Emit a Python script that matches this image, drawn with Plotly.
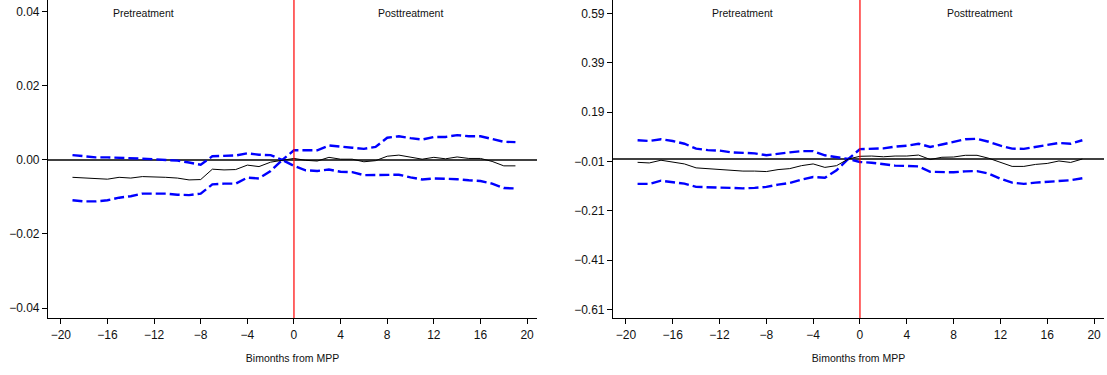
import plotly.graph_objects as go

# Event time (bimonths relative to MPP)
bimonths = list(range(-19, 20))

# Left panel: point estimates and 95% confidence bounds
left_est = [-0.0047, -0.0049, -0.0051, -0.0052, -0.0047, -0.0049, -0.0045, -0.0045, -0.0047, -0.0049,
            -0.0054, -0.0053, -0.0025, -0.0027, -0.0026, -0.0014, -0.0018, -0.0006, 0.0, 0.0004,
            -0.0001, -0.0003, 0.0007, 0.0002, 0.0002, -0.0005, -0.0002, 0.0010, 0.0013, 0.0007,
            0.0002, 0.0007, 0.0003, 0.0008, 0.0004, 0.0004, -0.0004, -0.0016, -0.0016]
left_hi = [0.0013, 0.0009, 0.0007, 0.0007, 0.0006, 0.0003, 0.0002, 0.0002, 0.0000, -0.0002,
           -0.0007, -0.0013, 0.0010, 0.0010, 0.0012, 0.0018, 0.0014, 0.0013, 0.0, 0.0026,
           0.0026, 0.0026, 0.0039, 0.0035, 0.0033, 0.0030, 0.0035, 0.0060, 0.0064, 0.0059,
           0.0055, 0.0062, 0.0062, 0.0067, 0.0064, 0.0064, 0.0057, 0.0049, 0.0048]
left_lo = [-0.0109, -0.0112, -0.0112, -0.0109, -0.0102, -0.0098, -0.0091, -0.0090, -0.0091, -0.0094,
           -0.0095, -0.0091, -0.0066, -0.0064, -0.0064, -0.0048, -0.0050, -0.0030, 0.0, -0.0016,
           -0.0028, -0.0030, -0.0026, -0.0032, -0.0033, -0.0041, -0.0040, -0.0040, -0.0040, -0.0047,
           -0.0053, -0.0050, -0.0050, -0.0052, -0.0055, -0.0057, -0.0064, -0.0076, -0.0077]

# Right panel: point estimates and 95% confidence bounds
right_est = [-0.0135, -0.016, -0.005, -0.011, -0.020, -0.036, -0.039, -0.042, -0.047, -0.049,
             -0.049, -0.051, -0.043, -0.039, -0.027, -0.020, -0.034, -0.027, 0.0, 0.011,
             0.012, 0.009, 0.012, 0.012, 0.016, -0.002, 0.007, 0.008, 0.015, 0.015,
             0.003, -0.015, -0.030, -0.030, -0.022, -0.018, -0.008, -0.014, 0.0]
right_hi = [0.076, 0.073, 0.080, 0.073, 0.062, 0.042, 0.036, 0.034, 0.027, 0.024,
            0.023, 0.015, 0.022, 0.027, 0.032, 0.032, 0.015, 0.008, 0.0, 0.040,
            0.042, 0.043, 0.050, 0.054, 0.062, 0.049, 0.059, 0.069, 0.080, 0.082,
            0.070, 0.054, 0.042, 0.041, 0.049, 0.055, 0.065, 0.062, 0.076]
right_lo = [-0.101, -0.101, -0.088, -0.093, -0.100, -0.113, -0.113, -0.116, -0.117, -0.119,
            -0.117, -0.113, -0.104, -0.097, -0.084, -0.073, -0.076, -0.046, 0.0, -0.012,
            -0.015, -0.022, -0.027, -0.028, -0.030, -0.052, -0.053, -0.054, -0.050, -0.049,
            -0.059, -0.080, -0.096, -0.101, -0.096, -0.093, -0.089, -0.086, -0.078]

x_ticks = list(range(-20, 21, 4))
left_yticks = [-0.04, -0.02, 0.0, 0.02, 0.04]
right_yticks = [-0.61, -0.41, -0.21, -0.01, 0.19, 0.39, 0.59]

FONT = "Liberation Sans, Arial, sans-serif"
BLUE = "#0000FF"
DASH = "10px,4px"

fig = go.Figure()

panels = [
    ("x", "y", left_est, left_lo, left_hi),
    ("x2", "y2", right_est, right_lo, right_hi),
]
for xa, ya, est, lo, hi in panels:
    fig.add_trace(go.Scatter(x=bimonths, y=hi, mode="lines", xaxis=xa, yaxis=ya,
                             line=dict(color=BLUE, width=2.4, dash=DASH), showlegend=False))
    fig.add_trace(go.Scatter(x=bimonths, y=lo, mode="lines", xaxis=xa, yaxis=ya,
                             line=dict(color=BLUE, width=2.4, dash=DASH), showlegend=False))
    fig.add_trace(go.Scatter(x=bimonths, y=est, mode="lines", xaxis=xa, yaxis=ya,
                             line=dict(color="black", width=1), showlegend=False))

xaxis_common = dict(
    range=[-21.1, 20.85], tickvals=x_ticks, ticks="outside", ticklen=5, tickwidth=1,
    tickcolor="black", showline=True, linecolor="black", linewidth=1.2, showgrid=False,
    zeroline=False, tickfont=dict(family=FONT, size=12, color="#111"),
    title=dict(text="Bimonths from MPP", font=dict(family=FONT, size=10.5, color="#111"), standoff=14),
)
yaxis_common = dict(
    ticks="outside", ticklen=5, tickwidth=1, tickcolor="black", showline=True,
    linecolor="black", linewidth=1.2, showgrid=False, zeroline=False,
    tickformat=".2f", tickfont=dict(family=FONT, size=12, color="#111"),
    domain=[1 - 318 / 375, 1.0],
)

fig.update_layout(
    width=1107, height=375,
    margin=dict(l=0, r=0, t=0, b=0),
    paper_bgcolor="white", plot_bgcolor="white",
    xaxis={**xaxis_common, "domain": [48 / 1107, 537 / 1107], "anchor": "y"},
    xaxis2={**xaxis_common, "domain": [613 / 1107, 1104 / 1107], "anchor": "y2"},
    yaxis={**yaxis_common, "range": [-0.0427, 0.0432], "tickvals": left_yticks, "anchor": "x"},
    yaxis2={**yaxis_common, "range": [-0.645, 0.645], "tickvals": right_yticks, "anchor": "x2"},
)

shapes = []
for xa, ya in [("x", "y"), ("x2", "y2")]:
    # reference line at zero effect
    shapes.append(dict(type="line", xref=f"{xa} domain", yref=ya, x0=0, x1=1, y0=0, y1=0,
                       line=dict(color="black", width=1.4), layer="below"))
    # treatment date
    shapes.append(dict(type="line", xref=xa, yref=f"{ya} domain", x0=0, x1=0, y0=0, y1=1,
                       line=dict(color="red", width=1.2), layer="above"))
fig.update_layout(shapes=shapes)

annotations = []
for xa, pre_x, post_x in [("x", -12.9, 10.0), ("x2", -10.0, 10.2)]:
    for label, xpos in [("Pretreatment", pre_x), ("Posttreatment", post_x)]:
        annotations.append(dict(text=label, x=xpos, xref=xa, y=1 - 13 / 375, yref="paper",
                                showarrow=False, xanchor="center", yanchor="middle",
                                font=dict(family=FONT, size=10.5, color="#111")))
fig.update_layout(annotations=annotations)

fig.write_html("out.html")
